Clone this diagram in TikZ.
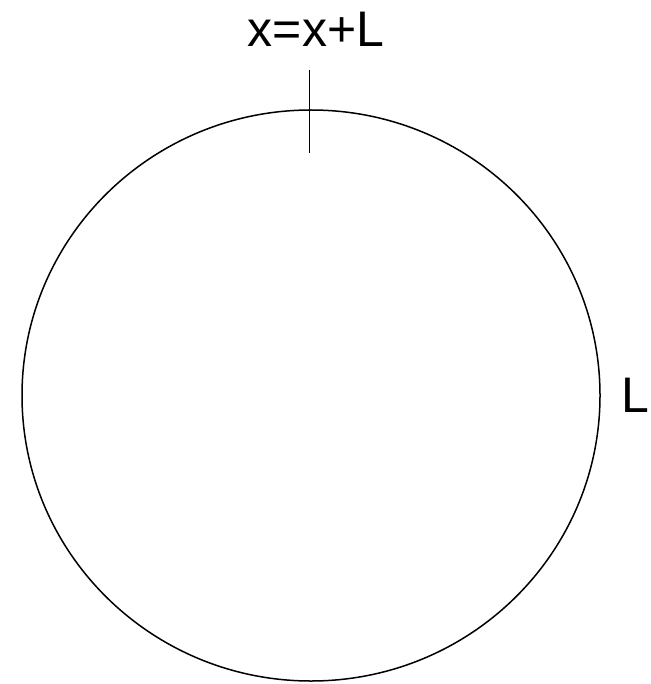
\documentclass[tikz,border=0pt]{standalone}
\usepackage{fontspec}
\setmainfont{Liberation Sans}
\usetikzlibrary{positioning,shapes.geometric}
\tikzset{
  ring/.style  = {draw=black, ellipse, line width=1.5pt, inner sep=0pt,
                  minimum width=578pt, minimum height=571pt},
  mark line/.style = {draw=black, line width=1.5pt},
  lbl/.style   = {font=\fontsize{50}{60}\selectfont, inner sep=0pt, text=black},
}
\begin{document}
\begin{tikzpicture}[x=1pt,y=-1pt]
\useasboundingbox (0,0) rectangle (650,684);

% ------------------------------------------------------------------ the loop
\node[ring] (loop) at (311,395.5) {};

% ------------------------------------------------------------------ the seam
\coordinate (seamtop) at (309.5,70);
\coordinate (seambot) at (309.5,153);
\draw[mark line] (seamtop) -- (seambot);

% ------------------------------------------------------------------ labels
\node[lbl, anchor=base] (seam) at (316,47) {x=x+L};
\node[lbl, anchor=base west] (len) at (621,412) {L};

\end{tikzpicture}
\end{document}
